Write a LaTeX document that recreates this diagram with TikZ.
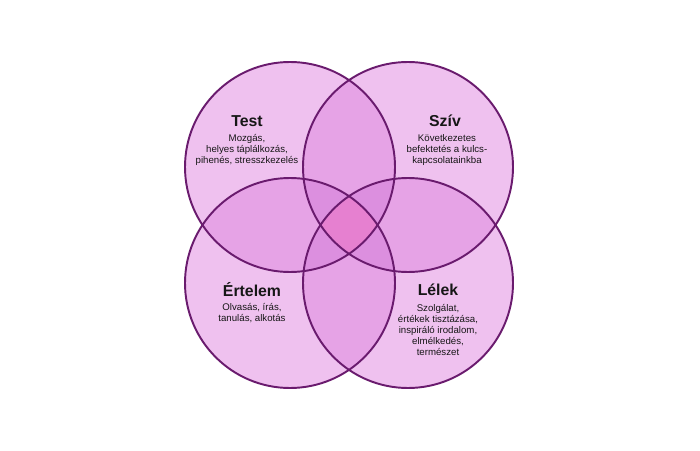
\documentclass[tikz,border=0pt]{standalone}
\usepackage{fontspec}
\setmainfont{Liberation Sans}
\usepackage{xcolor}
\usepackage{tikz}
\usetikzlibrary{calc}
\definecolor{bg}{HTML}{FFFFFF}
\definecolor{one}{HTML}{EFC1EF}
\definecolor{two}{HTML}{E6A3E6}
\definecolor{three}{HTML}{DC8FDF}
\definecolor{four}{HTML}{E680D0}
\definecolor{rim}{HTML}{6A1B6E}
\definecolor{text}{HTML}{161616}
\tikzset{
  rim/.style={draw=rim, line width=1.1pt},
  ttl/.style={text=text, font=\bfseries\fontsize{9}{10}\selectfont},
  body/.style={text=text, font=\fontsize{5.5}{6.3}\selectfont, align=center},
}
\begin{document}
\begin{tikzpicture}
  \useasboundingbox[fill=bg] (0,0) rectangle (14,9);
  \def\r{2.1}
  \coordinate (T) at (5.8,5.66);
  \coordinate (S) at (8.16,5.66);
  \coordinate (E) at (5.8,3.34);
  \coordinate (L) at (8.16,3.34);
  % single areas
  \foreach \c in {T,S,E,L}
    \fill[one] (\c) circle (\r);
  % pairs
  \foreach \a/\b in {T/S,T/E,T/L,S/E,S/L,E/L}{
    \begin{scope}
      \clip (\a) circle (\r);
      \fill[two] (\b) circle (\r);
    \end{scope}
  }
  % triples
  \foreach \a/\b/\c in {T/S/E,T/S/L,T/E/L,S/E/L}{
    \begin{scope}
      \clip (\a) circle (\r);
      \clip (\b) circle (\r);
      \fill[three] (\c) circle (\r);
    \end{scope}
  }
  % all four
  \begin{scope}
    \clip (T) circle (\r);
    \clip (S) circle (\r);
    \clip (E) circle (\r);
    \fill[four] (L) circle (\r);
  \end{scope}
  \foreach \c in {T,S,E,L}
    \draw[rim] (\c) circle (\r);
  % labels
  \node[ttl] (test) at (4.94,6.58) {Test};
  \node[body] (testtxt) at (4.94,6.0) {Mozgás,\\helyes táplálkozás,\\pihenés, stresszkezelés};
  \node[ttl] (sziv) at (8.9,6.58) {Szív};
  \node[body] (szivtxt) at (8.94,6.0) {Következetes\\befektetés a kulcs-\\kapcsolatainkba};
  \node[ttl] (ertelem) at (5.04,3.2) {Értelem};
  \node[body] (ertelemtxt) at (5.04,2.74) {Olvasás, írás,\\tanulás, alkotás};
  \node[ttl] (lelek) at (8.76,3.2) {Lélek};
  \node[body] (lelektxt) at (8.76,2.4) {Szolgálat,\\értékek tisztázása,\\inspiráló irodalom,\\elmélkedés,\\természet};
\end{tikzpicture}
\end{document}
